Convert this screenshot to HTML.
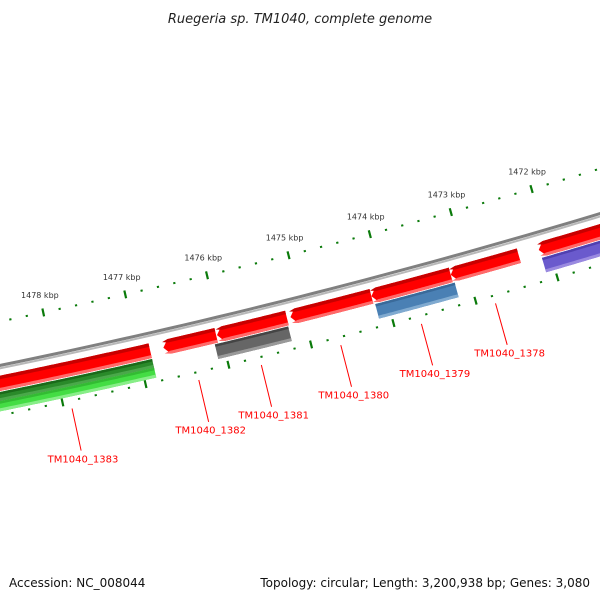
<!DOCTYPE html>
<html><head><meta charset="utf-8"><style>
html,body{margin:0;padding:0;background:#fff}
svg{display:block}
text{font-family:"DejaVu Sans","Liberation Sans",sans-serif}
</style></head><body>
<svg id="chart" width="600" height="600" viewBox="0 0 600 600">
<text x="300" y="23" text-anchor="middle" font-size="13" font-style="italic" fill="#222">Ruegeria sp. TM1040, complete genome</text>
<text x="9" y="587" font-size="12" fill="#111">Accession: NC_008044</text>
<text x="590" y="587" text-anchor="end" font-size="12" fill="#111">Topology: circular; Length: 3,200,938 bp; Genes: 3,080</text>
<g id="layer"></g>
</svg>
<script>
// data
const tickKbp = [1470,1471,1472,1473,1474,1475,1476,1477,1478,1479,1480];
const labelKbp = [1472,1473,1474,1475,1476,1477,1478];
const fwdNames = ["gene-1383","gene-1382","gene-1381","gene-1380","gene-1379","gene-1378","gene-1377"];
const fwdStart = [1476860,1476060,1475200,1474170,1473200,1472365,1470500];
const fwdEnd   = [1478950,1476700,1476050,1475157,1474170,1473200,1472120];
const laneNames = ["cds-green-dark","cds-green-light","cds-gray","cds-blue","cds-purple"];
const laneStart = [1476860,1476860,1475210,1473180,1470500];
const laneEnd   = [1478950,1478950,1476100,1474150,1472110];
const labelText = ["TM1040_1383","TM1040_1382","TM1040_1381","TM1040_1380","TM1040_1379","TM1040_1378"];

const NS="http://www.w3.org/2000/svg";
const layer=document.getElementById('layer');
const CX=-1390, CY=-6388;
const REF_BP=1475000, REF_ANG=75.82*Math.PI/180, K=1.2254e-5;
function ang(bp){return REF_ANG+(bp-REF_BP)*K;}
function pt(bp,r){const a=ang(bp);return [CX+r*Math.cos(a),CY+r*Math.sin(a)];}
function mk(tag,attrs){const e=document.createElementNS(NS,tag);for(const k in attrs)e.setAttribute(k,attrs[k]);layer.appendChild(e);return e;}
function arcPts(b0,b1,r){const out=[];const n=60;for(let i=0;i<=n;i++){const p=pt(b0+(b1-b0)*i/n,r);out.push(p[0].toFixed(2)+','+p[1].toFixed(2));}return out;}
function arcPath(b0,b1,r){return 'M'+arcPts(b0,b1,r).join(' L');}
function band(s,e,r0,r1,arrow){
  const head=arrow?70:0;
  const outer=arcPts(s,e-head,r1);
  const inner=arcPts(s,e-head,r0).reverse();
  let pts=outer.slice();
  if(arrow){const tip=pt(e,(r0+r1)/2);pts.push(tip[0].toFixed(2)+','+tip[1].toFixed(2));}
  pts=pts.concat(inner);
  return pts.join(' ');
}

// backbone
let bb=mk('path',{d:arcPath(1469000,1481000,6895),stroke:'#808080','stroke-width':3,fill:'none'});


let bb2=mk('path',{d:arcPath(1469000,1481000,6897.8),stroke:'#b8b8b8','stroke-width':2,fill:'none'});



// ticks
[6852,6944].forEach((R,ri)=>{
  for(let bp=tickKbp[0]*1000;bp<=tickKbp[tickKbp.length-1]*1000;bp+=200){
    const major=bp%1000===0;
    const h=major?4:1;
    const a=pt(bp,R-h),b=pt(bp,R+h);
    const t=mk('line',{x1:a[0],y1:a[1],x2:b[0],y2:b[1],stroke:'#0a7a0a','stroke-width':2.2});
    
    
  }
});
labelKbp.forEach(k=>{
  const p=pt(k*1000,6836);
  const t=mk('text',{x:p[0],y:p[1]+1,'text-anchor':'middle','font-size':8,fill:'#333'});
  t.textContent=k+' kbp';
  
  
});

// forward lane features (red)
fwdStart.forEach((s,i)=>{
  const e=fwdEnd[i];
  const g=mk('polygon',{points:band(s,e,6905,6920,true),fill:'#ff0000'});
  
  
  const d=mk('polygon',{points:band(s,e,6905,6908.5,true),fill:'#c80000'});
  
  
  const l=mk('polygon',{points:band(s,e,6917,6920,true),fill:'#ff6a6a'});
  
  
});

// second lane
const laneCol=[['#2a8a2a','#1a6a1a','#4aa84a'],['#44dd44','#33bb33','#88ee88'],['#666666','#444444','#999999'],['#4a80b4','#3a6a9a','#80aad0'],['#6a5acd','#5040b0','#9a8ae0']];
const laneR=[[6921,6930],[6930,6940],[6921,6936],[6921,6936],[6921,6936]];
laneStart.forEach((s,i)=>{
  const e=laneEnd[i],[r0,r1]=laneR[i],c=laneCol[i];
  const g=mk('polygon',{points:band(s,e,r0,r1,false),fill:c[0]});
  
  
  const d=mk('polygon',{points:band(s,e,r0,r0+2.5,false),fill:c[1]});
  
  
  const l=mk('polygon',{points:band(s,e,r1-3,r1,false),fill:c[2]});
  
  
});

// labels
labelText.forEach((txt,i)=>{
  const mid=(fwdStart[i]+fwdEnd[i])/2;
  const a=pt(mid,6952),b=pt(mid,6995),c=pt(mid,7004);
  const ln=mk('line',{x1:a[0],y1:a[1],x2:b[0],y2:b[1],stroke:'#ff0000','stroke-width':1});
  
  
  const t=mk('text',{x:c[0],y:c[1]+3,'text-anchor':'middle','font-size':10,fill:'#ff0000'});
  t.textContent=txt;
  
  
});
</script>
</body></html>
